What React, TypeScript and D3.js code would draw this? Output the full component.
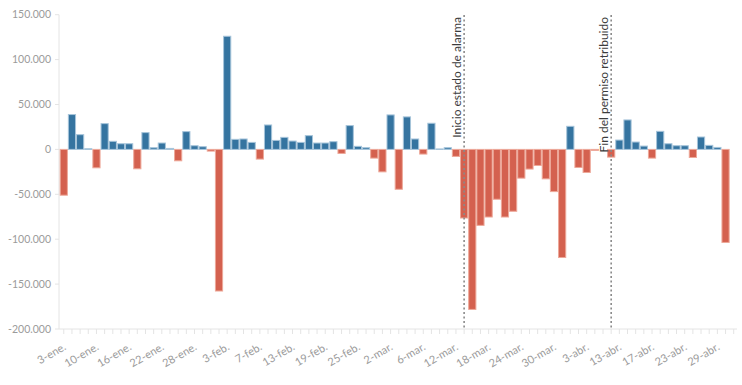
import * as d3 from "d3";

const width = 742;
const height = 385;
const margin = { top: 15, right: 12, bottom: 56, left: 60 };

// working days shown on the chart (Spanish labels)
const days = [
  "3-ene.", "7-ene.", "8-ene.", "9-ene.", "10-ene.", "13-ene.", "14-ene.", "15-ene.", "16-ene.", "17-ene.",
  "20-ene.", "21-ene.", "22-ene.", "23-ene.", "24-ene.", "27-ene.", "28-ene.", "29-ene.", "30-ene.", "31-ene.",
  "3-feb.", "4-feb.", "5-feb.", "6-feb.", "7-feb.", "10-feb.", "11-feb.", "12-feb.", "13-feb.", "14-feb.",
  "17-feb.", "18-feb.", "19-feb.", "20-feb.", "21-feb.", "24-feb.", "25-feb.", "26-feb.", "27-feb.", "28-feb.",
  "2-mar.", "3-mar.", "4-mar.", "5-mar.", "6-mar.", "9-mar.", "10-mar.", "11-mar.", "12-mar.", "13-mar.",
  "16-mar.", "17-mar.", "18-mar.", "19-mar.", "20-mar.", "23-mar.", "24-mar.", "25-mar.", "26-mar.", "27-mar.",
  "30-mar.", "31-mar.", "1-abr.", "2-abr.", "3-abr.", "6-abr.", "7-abr.", "8-abr.", "13-abr.", "14-abr.",
  "15-abr.", "16-abr.", "17-abr.", "20-abr.", "21-abr.", "22-abr.", "23-abr.", "24-abr.", "27-abr.", "28-abr.",
  "29-abr.", "30-abr.",
];

// daily change in affiliations
const values = [
  -51000, 38800, 16400, 700, -20500, 28700, 9000, 6300, 6300, -21600,
  18700, 1900, 7100, 1100, -12700, 19800, 4100, 3000, -1900, -157700,
  126000, 11200, 11600, 7800, -10800, 27200, 10000, 13400, 9300, 7800,
  15300, 7100, 7100, 8600, -4500, 26500, 3400, 1900, -9700, -25000,
  38400, -44400, 36200, 11600, -5200, 29100, 500, 1900, -7800, -76400,
  -178200, -84600, -75300, -55500, -75300, -68900, -32000, -21900, -17900, -32800,
  -47000, -120400, 25700, -20100, -25700, -1100, 0, -8600, 10400, 32800,
  8200, 3700, -9700, 20100, 6300, 4100, 4100, -9000, 13800, 4500,
  2200, -103600,
];

const tickLabels = [
  "3-ene.", "10-ene.", "16-ene.", "22-ene.", "28-ene.", "3-feb.", "7-feb.", "13-feb.", "19-feb.", "25-feb.",
  "2-mar.", "6-mar.", "12-mar.", "18-mar.", "24-mar.", "30-mar.", "3-abr.", "13-abr.", "17-abr.", "23-abr.", "29-abr.",
];

const yTicks = [150000, 100000, 50000, 0, -50000, -100000, -150000, -200000];

const events = [
  { day: "13-mar.", label: "Inicio estado de alarma" },
  { day: "8-abr.", label: "Fin del permiso retribuido" },
];

const locale = d3.formatLocale({
  decimal: ",",
  thousands: ".",
  grouping: [3],
  currency: ["", " €"],
  minus: "-",
});
const fmt = locale.format(",.0f");

const data = days.map((day, i) => ({ day, value: values[i] }));

const x = d3
  .scaleBand()
  .domain(days)
  .range([margin.left - 0.3, margin.left - 0.3 + days.length * 8.17])
  .paddingInner(0.12)
  .paddingOuter(0.06);

const y = d3
  .scaleLinear()
  .domain([-200000, 150000])
  .range([height - margin.bottom, margin.top - 0.3]);

const font = "Lato, 'Open Sans', sans-serif";
const grey = "#9b9b9b";
const axisColor = "#e4e4e4";

const App = () => {
  const y0 = y(0);
  const bottom = y(-200000);
  const axisX = margin.left - 1;

  return (
    <svg
      width={width}
      height={height}
      style={{ position: "absolute", left: 0, top: 0, background: "#fff" }}
      fontFamily={font}
    >
      {/* y axis */}
      <line x1={axisX} x2={axisX} y1={y(150000)} y2={bottom} stroke={axisColor} />
      {yTicks.map((t) => (
        <g key={t} transform={`translate(0,${y(t)})`}>
          <line x1={axisX - 4} x2={axisX} stroke={axisColor} />
          <text x={axisX - 8} dy="0.35em" textAnchor="end" fontSize={10.5} fill={grey}>
            {fmt(t)}
          </text>
        </g>
      ))}

      {/* x axis */}
      <line x1={axisX} x2={737} y1={bottom} y2={bottom} stroke={axisColor} />
      {days.map((d) => {
        const cx = (x(d) ?? 0) + x.bandwidth() / 2;
        return (
          <line key={d} x1={cx} x2={cx} y1={bottom} y2={bottom + 5} stroke={axisColor} />
        );
      })}
      <line x1={733.7} x2={733.7} y1={bottom} y2={bottom + 5} stroke={axisColor} />
      {tickLabels.map((d) => {
        const cx = (x(d) ?? 0) + x.bandwidth() / 2;
        return (
          <text
            key={d}
            transform={`translate(${cx + 3},${bottom + 20}) rotate(-30)`}
            textAnchor="end"
            fontSize={11}
            fill={grey}
          >
            {d}
          </text>
        );
      })}

      {/* bars */}
      {data
        .filter((d) => d.value !== 0)
        .map((d) => {
          const pos = d.value > 0;
          return (
            <rect
              key={d.day}
              x={x(d.day)}
              y={pos ? y(d.value) : y0}
              width={x.bandwidth()}
              height={Math.abs(y(d.value) - y0)}
              fill={pos ? "#3574a0" : "#d4614f"}
              stroke={pos ? "#a6c4da" : "#eda899"}
              strokeWidth={1}
            />
          );
        })}

      {/* event markers */}
      {events.map((e) => {
        const cx = (x(e.day) ?? 0) + x.bandwidth() / 2;
        return (
          <g key={e.day}>
            <line
              x1={cx}
              x2={cx}
              y1={margin.top}
              y2={bottom}
              stroke="#8a8a8a"
              strokeWidth={1.6}
              strokeDasharray="2,2.5"
            />
            <text
              transform={`translate(${cx - 3},${margin.top + 2}) rotate(-90)`}
              textAnchor="end"
              fontSize={12}
              fill="#3c3c3c"
            >
              {e.label}
            </text>
          </g>
        );
      })}
    </svg>
  );
};

export default App;
